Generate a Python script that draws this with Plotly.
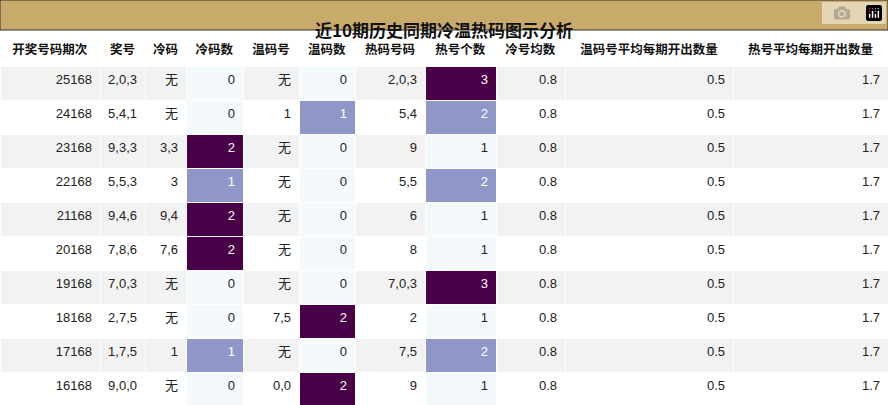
import plotly.graph_objects as go

periods = ["25168","24168","23168","22168","21168","20168","19168","18168","17168","16168"]
prize = ["2,0,3","5,4,1","9,3,3","5,5,3","9,4,6","7,8,6","7,0,3","2,7,5","1,7,5","9,0,0"]
cold = ["无","无","3,3","3","9,4","7,6","无","无","1","无"]
cold_n = [0,0,2,1,2,2,0,0,1,0]
warm = ["无","1","无","无","无","无","无","7,5","无","0,0"]
warm_n = [0,1,0,0,0,0,0,2,0,2]
hot = ["2,0,3","5,4","9","5,5","6","8","7,0,3","2","7,5","9"]
hot_n = [3,2,1,2,1,1,3,1,2,1]
cold_avg = [0.8]*10
warm_avg = [0.5]*10
hot_avg = [1.7]*10
headers = ["开奖号码期次","奖号","冷码","冷码数","温码号","温码数","热码号码","热号个数","冷号均数","温码号平均每期开出数量","热号平均每期开出数量"]
title = "近10期历史同期冷温热码图示分析"

DARK, LIGHT, PALE = "#4a0048", "#8f97c9", "#f4fafb"
rowbg = ["#f2f2f2" if i % 2 == 0 else "#ffffff" for i in range(10)]

def heat(vals, lo, hi):
    fill, font = [], []
    for v in vals:
        if v >= hi:
            fill.append(DARK); font.append("white")
        elif v >= lo:
            fill.append(LIGHT); font.append("white")
        else:
            fill.append(PALE); font.append("#222")
    return fill, font

cf, cfo = heat(cold_n, 1, 2)
wf, wfo = heat(warm_n, 1, 2)
hf, hfo = heat(hot_n, 2, 3)
black = ["#222"]*10
fills = [rowbg, rowbg, rowbg, cf, rowbg, wf, rowbg, hf, rowbg, rowbg, rowbg]
fonts = [black, black, black, cfo, black, wfo, black, hfo, black, black, black]

fig = go.Figure(go.Table(
    columnwidth=[100,45,41,57,56,56,70,71,69,168,155],
    header=dict(values=[f"<b>{h}</b>" for h in headers], fill_color="white",
                line_color="white", align="center", height=34,
                font=dict(family="Noto Sans CJK SC", size=12.5, color="#111")),
    cells=dict(values=[periods, prize, cold, cold_n, warm, warm_n, hot, hot_n,
                       [f"{v:.1f}" for v in cold_avg], [f"{v:.1f}" for v in warm_avg], [f"{v:.1f}" for v in hot_avg]],
               fill_color=fills, line_color="white", align="right", height=34,
               font=dict(family="Liberation Sans, Noto Sans CJK SC", size=13, color=fonts)),
    domain=dict(x=[0,1], y=[0, 1-31/405]),
))
fig.add_shape(type="rect", xref="paper", yref="paper", x0=0, x1=1, y0=1-30/405, y1=1,
              fillcolor="#c8aa6a", line=dict(color="#333", width=1))
fig.add_annotation(text=f"<b>{title}</b>", xref="paper", yref="paper", x=0.5, y=1-15/405,
                   showarrow=False, font=dict(family="Noto Sans CJK SC", size=17, color="#111"))
fig.update_layout(width=888, height=405, margin=dict(l=0, r=0, t=0, b=0), paper_bgcolor="white")
fig.write_html("out.html", post_script="document.body.style.margin='0';")
